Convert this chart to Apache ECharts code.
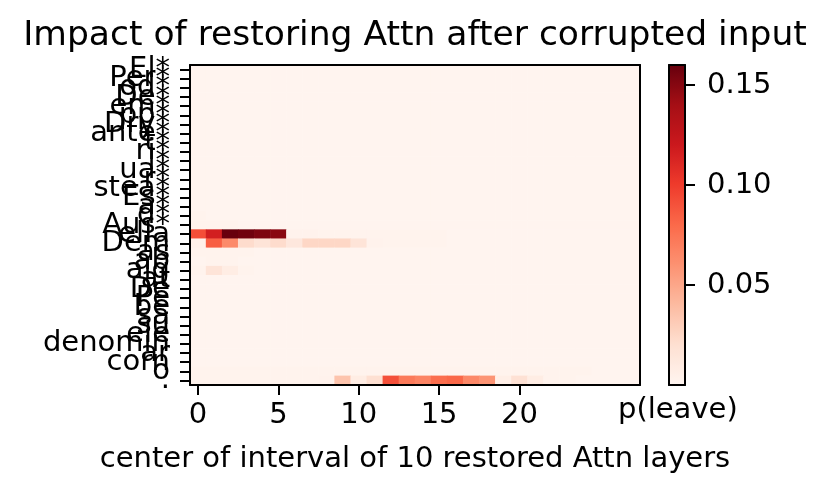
<!DOCTYPE html>
<html>
<head>
<meta charset="utf-8">
<script src="https://cdn.jsdelivr.net/npm/echarts@6/dist/echarts.min.js"></script>
<style>
html,body{margin:0;padding:0;background:#fff;}
#chart{width:830px;height:494px;}
</style>
</head>
<body>
<div id="chart"></div>
<script>
// Layers (x categories)
const layers = ['0','1','2','3','4','5','6','7','8','9','10','11','12','13','14','15','16','17','18','19','20','21','22','23','24','25','26','27'];
// Tokens (y categories, top to bottom)
const tokens = ['El*','Per*','od*','De*','em*','pp*','Dry*','ante*','t*','ri*','l*','ua*','r*','stea*','Es*','a*','d*','Aus*',
  'ella','Dem','as','ab','alg','at','De','Pe','be','sa','su','ele','denomin','ar','corn','o','.'];
// Colorbar tick labels
const cbarTicks = [0.05, 0.10, 0.15];
const xTickShown = ['0','5','10','15','20'];

// p(leave) per token row, per layer column
const pLeave = [
 [0.001,0.001,0.001,0.001,0.001,0.001,0.001,0.001,0.001,0.001,0.001,0.001,0.001,0.001,0.001,0.001,0.001,0.001,0.001,0.001,0.001,0.001,0.001,0.001,0.001,0.001,0.001,0.001],
 [0.001,0.001,0.001,0.001,0.001,0.001,0.001,0.001,0.001,0.001,0.001,0.001,0.001,0.001,0.001,0.001,0.001,0.001,0.001,0.001,0.001,0.001,0.001,0.001,0.001,0.001,0.001,0.001],
 [0.001,0.001,0.001,0.001,0.001,0.001,0.001,0.001,0.001,0.001,0.001,0.001,0.001,0.001,0.001,0.001,0.001,0.001,0.001,0.001,0.001,0.001,0.001,0.001,0.001,0.001,0.001,0.001],
 [0.001,0.001,0.001,0.001,0.001,0.001,0.001,0.001,0.001,0.001,0.001,0.001,0.001,0.001,0.001,0.001,0.001,0.001,0.001,0.001,0.001,0.001,0.001,0.001,0.001,0.001,0.001,0.001],
 [0.001,0.001,0.001,0.001,0.001,0.001,0.001,0.001,0.001,0.001,0.001,0.001,0.001,0.001,0.001,0.001,0.001,0.001,0.001,0.001,0.001,0.001,0.001,0.001,0.001,0.001,0.001,0.001],
 [0.001,0.001,0.001,0.001,0.001,0.001,0.001,0.001,0.001,0.001,0.001,0.001,0.001,0.001,0.001,0.001,0.001,0.001,0.001,0.001,0.001,0.001,0.001,0.001,0.001,0.001,0.001,0.001],
 [0.001,0.001,0.001,0.001,0.001,0.001,0.001,0.001,0.001,0.001,0.001,0.001,0.001,0.001,0.001,0.001,0.001,0.001,0.001,0.001,0.001,0.001,0.001,0.001,0.001,0.001,0.001,0.001],
 [0.001,0.001,0.001,0.001,0.001,0.001,0.001,0.001,0.001,0.001,0.001,0.001,0.001,0.001,0.001,0.001,0.001,0.001,0.001,0.001,0.001,0.001,0.001,0.001,0.001,0.001,0.001,0.001],
 [0.001,0.001,0.001,0.001,0.001,0.001,0.001,0.001,0.001,0.001,0.001,0.001,0.001,0.001,0.001,0.001,0.001,0.001,0.001,0.001,0.001,0.001,0.001,0.001,0.001,0.001,0.001,0.001],
 [0.001,0.001,0.001,0.001,0.001,0.001,0.001,0.001,0.001,0.001,0.001,0.001,0.001,0.001,0.001,0.001,0.001,0.001,0.001,0.001,0.001,0.001,0.001,0.001,0.001,0.001,0.001,0.001],
 [0.001,0.001,0.001,0.001,0.001,0.001,0.001,0.001,0.001,0.001,0.001,0.001,0.001,0.001,0.001,0.001,0.001,0.001,0.001,0.001,0.001,0.001,0.001,0.001,0.001,0.001,0.001,0.001],
 [0.001,0.001,0.001,0.001,0.001,0.001,0.001,0.001,0.001,0.001,0.001,0.001,0.001,0.001,0.001,0.001,0.001,0.001,0.001,0.001,0.001,0.001,0.001,0.001,0.001,0.001,0.001,0.001],
 [0.001,0.001,0.001,0.001,0.001,0.001,0.001,0.001,0.001,0.001,0.001,0.001,0.001,0.001,0.001,0.001,0.001,0.001,0.001,0.001,0.001,0.001,0.001,0.001,0.001,0.001,0.001,0.001],
 [0.001,0.001,0.001,0.001,0.001,0.001,0.001,0.001,0.001,0.001,0.001,0.001,0.001,0.001,0.001,0.001,0.001,0.001,0.001,0.001,0.001,0.001,0.001,0.001,0.001,0.001,0.001,0.001],
 [0.001,0.001,0.001,0.001,0.001,0.001,0.001,0.001,0.001,0.001,0.001,0.001,0.001,0.001,0.001,0.001,0.001,0.001,0.001,0.001,0.001,0.001,0.001,0.001,0.001,0.001,0.001,0.001],
 [0.001,0.001,0.001,0.001,0.001,0.001,0.001,0.001,0.001,0.001,0.001,0.001,0.001,0.001,0.001,0.001,0.001,0.001,0.001,0.001,0.001,0.001,0.001,0.001,0.001,0.001,0.001,0.001],
 [0.002,0.001,0.001,0.001,0.001,0.001,0.001,0.001,0.001,0.001,0.001,0.001,0.001,0.001,0.001,0.001,0.001,0.001,0.001,0.001,0.001,0.001,0.001,0.001,0.001,0.001,0.001,0.001],
 [0.002,0.002,0.002,0.001,0.001,0.001,0.001,0.001,0.001,0.001,0.001,0.001,0.001,0.001,0.001,0.001,0.001,0.001,0.001,0.001,0.001,0.001,0.001,0.001,0.001,0.001,0.001,0.001],
 [0.092,0.116,0.1596,0.157,0.153,0.149,0.003,0.003,0.002,0.002,0.002,0.002,0.002,0.002,0.002,0.002,0.001,0.001,0.001,0.001,0.001,0.001,0.001,0.001,0.001,0.001,0.001,0.001],
 [0.004,0.085,0.064,0.022,0.016,0.022,0.013,0.025,0.025,0.025,0.016,0.003,0.002,0.002,0.002,0.002,0.001,0.001,0.001,0.001,0.001,0.001,0.001,0.001,0.001,0.001,0.001,0.001],
 [0.002,0.002,0.002,0.002,0.001,0.001,0.001,0.001,0.001,0.001,0.001,0.001,0.001,0.001,0.001,0.001,0.001,0.001,0.001,0.001,0.001,0.001,0.001,0.001,0.001,0.001,0.001,0.001],
 [0.001,0.002,0.002,0.001,0.001,0.001,0.001,0.001,0.001,0.001,0.001,0.001,0.001,0.001,0.001,0.001,0.001,0.001,0.001,0.001,0.001,0.001,0.001,0.001,0.001,0.001,0.001,0.001],
 [0.002,0.016,0.008,0.002,0.001,0.001,0.001,0.001,0.001,0.001,0.001,0.001,0.001,0.001,0.001,0.001,0.001,0.001,0.001,0.001,0.001,0.001,0.001,0.001,0.001,0.001,0.001,0.001],
 [0.001,0.001,0.001,0.001,0.001,0.001,0.001,0.001,0.001,0.001,0.001,0.001,0.001,0.001,0.001,0.001,0.001,0.001,0.001,0.001,0.001,0.001,0.001,0.001,0.001,0.001,0.001,0.001],
 [0.001,0.001,0.001,0.001,0.001,0.001,0.001,0.001,0.001,0.001,0.001,0.001,0.001,0.001,0.001,0.001,0.001,0.001,0.001,0.001,0.001,0.001,0.001,0.001,0.001,0.001,0.001,0.001],
 [0.001,0.001,0.001,0.001,0.001,0.001,0.001,0.001,0.001,0.001,0.001,0.001,0.001,0.001,0.001,0.001,0.001,0.001,0.001,0.001,0.001,0.001,0.001,0.001,0.001,0.001,0.001,0.001],
 [0.001,0.001,0.001,0.001,0.001,0.001,0.001,0.001,0.001,0.001,0.001,0.001,0.001,0.001,0.001,0.001,0.001,0.001,0.001,0.001,0.001,0.001,0.001,0.001,0.001,0.001,0.001,0.001],
 [0.001,0.001,0.001,0.001,0.001,0.001,0.001,0.001,0.001,0.001,0.001,0.001,0.001,0.001,0.001,0.001,0.001,0.001,0.001,0.001,0.001,0.001,0.001,0.001,0.001,0.001,0.001,0.001],
 [0.001,0.001,0.001,0.001,0.001,0.001,0.001,0.001,0.001,0.001,0.001,0.001,0.001,0.001,0.001,0.001,0.001,0.001,0.001,0.001,0.001,0.001,0.001,0.001,0.001,0.001,0.001,0.001],
 [0.001,0.001,0.001,0.001,0.001,0.001,0.001,0.001,0.001,0.001,0.001,0.001,0.001,0.001,0.001,0.001,0.001,0.001,0.001,0.001,0.001,0.001,0.001,0.001,0.001,0.001,0.001,0.001],
 [0.001,0.001,0.001,0.001,0.001,0.001,0.001,0.001,0.001,0.001,0.001,0.001,0.001,0.001,0.001,0.001,0.001,0.001,0.001,0.001,0.001,0.001,0.001,0.001,0.001,0.001,0.001,0.001],
 [0.001,0.001,0.001,0.001,0.001,0.001,0.001,0.001,0.001,0.001,0.001,0.001,0.001,0.001,0.001,0.001,0.001,0.001,0.001,0.001,0.001,0.001,0.001,0.001,0.001,0.001,0.001,0.001],
 [0.001,0.001,0.001,0.001,0.001,0.001,0.001,0.001,0.001,0.001,0.001,0.001,0.001,0.001,0.001,0.001,0.001,0.001,0.001,0.001,0.001,0.001,0.001,0.001,0.001,0.001,0.001,0.001],
 [0.002,0.002,0.002,0.002,0.002,0.002,0.002,0.002,0.002,0.002,0.002,0.002,0.002,0.002,0.002,0.002,0.002,0.002,0.002,0.002,0.002,0.002,0.002,0.002,0.002,0.001,0.001,0.001],
 [0.002,0.002,0.002,0.002,0.002,0.002,0.002,0.002,0.003,0.035,0.008,0.020,0.091,0.072,0.067,0.078,0.081,0.065,0.059,0.006,0.019,0.008,0.002,0.002,0.001,0.001,0.001,0.001]
];

const reds = ['#fff5f0','#fee0d2','#fcbba1','#fc9272','#fb6a4a','#ef3b2c','#cb181d','#a50f15','#67000d'];

const heatData = [];
pLeave.forEach((row, yi) => row.forEach((v, xi) => heatData.push([xi, yi, v])));

const FONT = 'DejaVu Sans';
const FS = 29;
const showTick = (i) => xTickShown.indexOf(layers[i]) >= 0;
const lineStyle = {color: '#000', width: 2};

const chart = echarts.init(document.getElementById('chart'), null, {renderer: 'canvas'});
chart.setOption({
  animation: false,
  backgroundColor: '#fff',
  title: {
    text: 'Impact of restoring Attn after corrupted input',
    left: 'center',
    top: 14,
    textStyle: {fontFamily: FONT, fontSize: 34.5, fontWeight: 'normal', color: '#000'}
  },
  grid: [
    {left: 190, top: 65, width: 450, height: 320},
    {left: 669, top: 65, width: 16, height: 320}
  ],
  xAxis: [
    {
      type: 'category', gridIndex: 0, data: layers, position: 'bottom', z: 10,
      axisLine: {show: true, lineStyle: lineStyle},
      axisTick: {show: true, alignWithLabel: true, interval: showTick, length: 10, lineStyle: lineStyle},
      axisLabel: {interval: showTick, margin: 16, fontFamily: FONT, fontSize: FS, color: '#000'},
      splitLine: {show: false},
      name: 'center of interval of 10 restored Attn layers',
      nameLocation: 'middle', nameGap: 60,
      nameTextStyle: {fontFamily: FONT, fontSize: FS, color: '#000'}
    },
    {
      type: 'category', gridIndex: 0, data: layers, position: 'top', z: 10,
      axisLine: {show: true, lineStyle: lineStyle},
      axisTick: {show: false}, axisLabel: {show: false}, splitLine: {show: false}
    },
    {
      type: 'value', gridIndex: 1, min: 0, max: 1, position: 'bottom', z: 10,
      axisLine: {show: true, onZero: false, lineStyle: lineStyle},
      axisTick: {show: false}, axisLabel: {show: false}, splitLine: {show: false}
    },
    {
      type: 'value', gridIndex: 1, min: 0, max: 1, position: 'top', z: 10,
      axisLine: {show: true, onZero: false, lineStyle: lineStyle},
      axisTick: {show: false}, axisLabel: {show: false}, splitLine: {show: false}
    }
  ],
  yAxis: [
    {
      type: 'category', gridIndex: 0, data: tokens, inverse: true, position: 'left', z: 10,
      axisLine: {show: true, lineStyle: lineStyle},
      axisTick: {show: true, alignWithLabel: true, interval: 0, length: 10, lineStyle: lineStyle},
      axisLabel: {interval: 0, margin: 20, fontFamily: FONT, fontSize: FS, color: '#000', hideOverlap: false},
      splitLine: {show: false}
    },
    {
      type: 'category', gridIndex: 0, data: tokens, inverse: true, position: 'right', z: 10,
      axisLine: {show: true, lineStyle: lineStyle},
      axisTick: {show: false}, axisLabel: {show: false}, splitLine: {show: false}
    },
    {
      type: 'value', gridIndex: 1, min: 0, max: 0.16, position: 'right', z: 10,
      axisLine: {show: true, onZero: false, lineStyle: lineStyle},
      axisTick: {show: true, length: 10, customValues: cbarTicks, lineStyle: lineStyle},
      axisLabel: {customValues: cbarTicks, margin: 22, fontFamily: FONT, fontSize: FS, color: '#000',
        formatter: (v) => v.toFixed(2)},
      splitLine: {show: false}
    },
    {
      type: 'value', gridIndex: 1, min: 0, max: 0.16, position: 'left', z: 10,
      axisLine: {show: true, onZero: false, lineStyle: lineStyle},
      axisTick: {show: false}, axisLabel: {show: false}, splitLine: {show: false}
    }
  ],
  visualMap: {
    type: 'continuous',
    seriesIndex: 0,
    min: 0, max: 0.16,
    orient: 'vertical',
    left: 669, top: 65,
    itemWidth: 16, itemHeight: 320,
    padding: 0,
    calculable: false,
    hoverLink: false,
    show: true,
    z: 1,
    inRange: {color: reds}
  },
  graphic: [{
    type: 'text', left: 618, top: 396,
    style: {text: 'p(leave)', font: '29px "DejaVu Sans"', fill: '#000'}
  }],
  series: [{
    type: 'heatmap',
    xAxisIndex: 0, yAxisIndex: 0,
    data: heatData,
    emphasis: {disabled: true},
    itemStyle: {borderWidth: 0}
  }]
});
</script>
</body>
</html>
